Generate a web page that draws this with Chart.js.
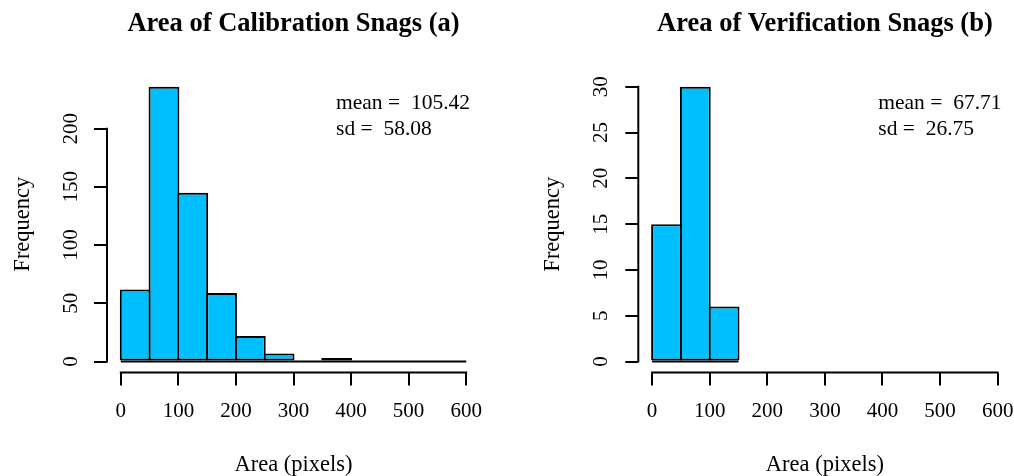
<!DOCTYPE html>
<html><head><meta charset="utf-8">
<script src="https://cdn.jsdelivr.net/npm/chart.js@4.4.0/dist/chart.umd.min.js"></script>
<style>
html,body{margin:0;padding:0;background:#fff;width:1014px;height:476px;overflow:hidden;}
.panel{position:absolute;top:0;width:507px;height:476px;}
canvas{display:block;}
</style></head><body>
<div class="panel" style="left:0"><canvas id="c1" width="507" height="476"></canvas></div>
<div class="panel" style="left:507px"><canvas id="c2" width="507" height="476"></canvas></div>
<script>
// ---- data ----
const breaksCal = [0,50,100,150,200,250,300,350,400,450,500,550,600];
const countsCal = [62,236,145,59,22,7,1,3,0,0,0,1];
const breaksVer = [0,50,100,150];
const countsVer = [15,30,6];
const xTicks = [0,100,200,300,400,500,600];
const yTicksCal = [0,50,100,150,200];
const yTicksVer = [0,5,10,15,20,25,30];
const titleCal = 'Area of Calibration Snags (a)';
const titleVer = 'Area of Verification Snags (b)';
const statsCal = ['mean =  105.42','sd =  58.08'];
const statsVer = ['mean =  67.71','sd =  26.75'];
const xLabel = 'Area (pixels)';
const yLabel = 'Frequency';

const FONT = "'Liberation Serif', 'Times New Roman', serif";

const rAxes = {
  id:'rAxes',
  afterDraw(chart, args, o){
    const ctx = chart.ctx, xs = chart.scales.x, ys = chart.scales.y, ca = chart.chartArea;
    ctx.save();
    ctx.strokeStyle = '#000'; ctx.lineWidth = 2; ctx.lineCap = 'square';
    ctx.beginPath();
    ctx.moveTo(xs.getPixelForValue(o.xt[0]), ca.bottom);
    ctx.lineTo(xs.getPixelForValue(o.xt[o.xt.length-1]), ca.bottom);
    ctx.moveTo(ca.left, ys.getPixelForValue(o.yt[0]));
    ctx.lineTo(ca.left, ys.getPixelForValue(o.yt[o.yt.length-1]));
    ctx.stroke();
    ctx.fillStyle = '#000';
    ctx.font = '21.5px ' + FONT;
    ctx.textBaseline = 'middle'; ctx.textAlign = 'left';
    const w = Math.max(...o.stats.map(s => ctx.measureText(s).width));
    const x0 = ca.right - 10 - w;
    o.stats.forEach((s,i) => ctx.fillText(s, x0, ca.top + 27.5 + i*26));
    ctx.restore();
  }
};

function makeChart(id, p){
  const n = p.counts.length;
  const bars = p.counts.map((c,i) => ({x:(p.breaks[i]+p.breaks[i+1])/2, y:c}));
  const baseLine = [{x:p.breaks[0], y:0}, {x:p.breaks[n], y:0}];
  const xMin = xTicks[0], xMax = xTicks[xTicks.length-1];
  const yMax = Math.max(...p.counts);
  new Chart(document.getElementById(id), {
    type:'bar',
    data:{datasets:[
      {type:'bar', data:bars, backgroundColor:'#00BFFF', borderColor:'#000', borderWidth:2,
       borderSkipped:false, barPercentage:1.07, categoryPercentage:1, order:1},
      {type:'line', data:baseLine, borderColor:'#000', borderWidth:2, pointRadius:0, fill:false, order:0}
    ]},
    options:{
      responsive:false, animation:false, devicePixelRatio:1,
      layout:{padding:{left:0, top:0, bottom:0, right:p.padRight}},
      plugins:{
        legend:{display:false}, tooltip:{enabled:false},
        title:{display:true, text:p.title, fullSize:false, color:'#000',
               font:{family:FONT, size:26.5, weight:'bold', lineHeight:1.2},
               padding:{top:8.1, bottom:35.8}},
        rAxes:{xt:xTicks, yt:p.yTicks, stats:p.stats}
      },
      scales:{
        x:{type:'linear', min:xMin-0.04*(xMax-xMin), max:xMax+0.04*(xMax-xMin), offset:false,
           afterBuildTicks:s => { s.ticks = xTicks.map(v => ({value:v})); },
           afterFit:s => { s.height = 103.4; s.paddingLeft = 0; s.paddingRight = 0; },
           grid:{display:true, drawOnChartArea:false, drawTicks:true, tickLength:13, color:'#000', lineWidth:2, offset:false},
           border:{display:false},
           ticks:{autoSkip:false, maxRotation:0, minRotation:0, color:'#000', font:{family:FONT, size:21}, padding:13.5},
           title:{display:true, text:xLabel, color:'#000', font:{family:FONT, size:22.5, lineHeight:1}, padding:{top:0, bottom:0}}
        },
        y:{type:'linear', min:-0.04*yMax, max:1.04*yMax,
           afterBuildTicks:s => { s.ticks = p.yTicks.map(v => ({value:v})); },
           afterFit:s => { s.width = p.yWidth; s.paddingTop = 0; s.paddingBottom = 0; },
           grid:{display:true, drawOnChartArea:false, drawTicks:true, tickLength:13, color:'#000', lineWidth:2},
           border:{display:false},
           ticks:{autoSkip:false, minRotation:90, maxRotation:90, crossAlign:'center', color:'#000',
                  font:{family:FONT, size:21}, padding:p.yPad},
           title:{display:true, text:yLabel, color:'#000', font:{family:FONT, size:22.5, lineHeight:1.2}, padding:{top:p.yTitlePad, bottom:0}}
        }
      }
    },
    plugins:[rAxes]
  });
}

makeChart('c1', {breaks:breaksCal, counts:countsCal, yTicks:yTicksCal, title:titleCal, stats:statsCal,
                 padRight:27, yWidth:107, yPad:7, yTitlePad:9.5});
makeChart('c2', {breaks:breaksVer, counts:countsVer, yTicks:yTicksVer, title:titleVer, stats:statsVer,
                 padRight:2.5, yWidth:131.3, yPad:13.1, yTitlePad:32.2});
</script>
</body></html>
